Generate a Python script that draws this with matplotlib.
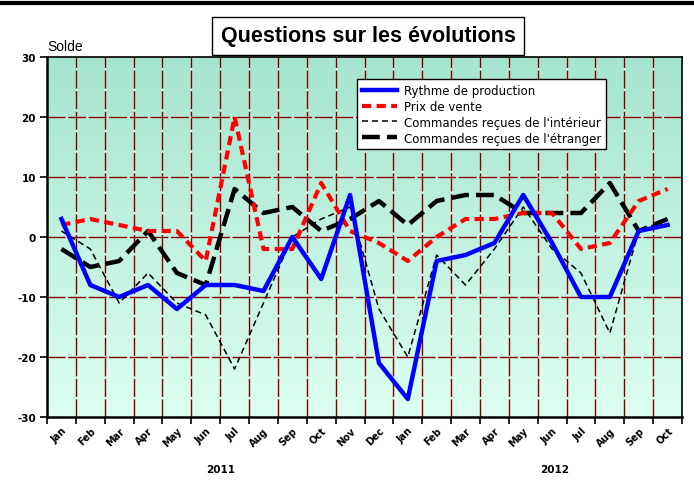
import numpy as np
import matplotlib.pyplot as plt
from matplotlib.colors import LinearSegmentedColormap
from matplotlib.lines import Line2D
from matplotlib.transforms import blended_transform_factory

months = ["Jan", "Feb", "Mar", "Apr", "May", "Jun", "Jul", "Aug", "Sep", "Oct", "Nov", "Dec",
          "Jan", "Feb", "Mar", "Apr", "May", "Jun", "Jul", "Aug", "Sep", "Oct"]
years = ["2011", "2012"]

rythme = [3, -8, -10, -8, -12, -8, -8, -9, 0, -7, 7, -21,
          -27, -4, -3, -1, 7, -1, -10, -10, 1, 2]
prix = [2, 3, 2, 1, 1, -4, 20, -2, -2, 9, 1, -1,
        -4, 0, 3, 3, 4, 4, -2, -1, 6, 8]
interieur = [1, -2, -11, -6, -11, -13, -22, -11, 0, 3, 5, -12,
             -20, -3, -8, -2, 5, -2, -6, -16, 1, 3]
etranger = [-2, -5, -4, 1, -6, -8, 8, 4, 5, 1, 3, 6,
            2, 6, 7, 7, 4, 4, 4, 9, 1, 3]

x = np.arange(len(months))

fig = plt.figure(figsize=(6.94, 4.81), dpi=100)
ax = fig.add_axes([47 / 694, 1 - 418 / 481, 635 / 694, 360 / 481])

# gradient background
cmap = LinearSegmentedColormap.from_list("bg", ["#dcfff1", "#a5e5cf"])
grad = np.linspace(0, 1, 256).reshape(-1, 1)
ax.imshow(grad, cmap=cmap, aspect="auto", origin="lower",
          extent=[-0.5, len(months) - 0.5, -30, 30], zorder=0)

ax.set_xlim(-0.5, len(months) - 0.5)
ax.set_ylim(-30, 30)

# dashed dark red grid with light gaps
for b in np.arange(0.5, len(months) - 0.5, 1):
    ax.axvline(b, color="#f4f4f4", lw=1.0, zorder=1)
    ax.axvline(b, color="#800000", lw=1.0, dashes=(13, 1.8), zorder=1)
for v in range(-20, 30, 10):
    ax.axhline(v, color="#f4f4f4", lw=1.0, zorder=1)
    ax.axhline(v, color="#800000", lw=1.0, dashes=(13, 1.8), zorder=1)

ax.plot(x, interieur, color="black", lw=1.1, dashes=(4, 2.5), zorder=3,
        label="Commandes reçues de l'intérieur")
ax.plot(x, etranger, color="black", lw=3.2, dashes=(4, 1.6), zorder=3,
        label="Commandes reçues de l'étranger")
ax.plot(x, prix, color="#ff0000", lw=3.0, dashes=(2.2, 1.3), zorder=4,
        label="Prix de vente")
ax.plot(x, rythme, color="#0000ff", lw=3.2, zorder=5,
        label="Rythme de production")

# ticks: marks at month boundaries, labels at centres
ax.set_xticks(np.arange(-0.5, len(months), 1))
ax.set_xticklabels([])
ax.tick_params(axis="x", which="major", direction="out", length=5, width=1.2, color="black")
ax.set_xticks(x, minor=True)
ax.set_xticklabels(months, minor=True, rotation=45, ha="right", va="top",
                   rotation_mode="anchor", fontsize=7, fontweight="bold")
ax.tick_params(axis="x", which="minor", length=0, pad=6)

ax.set_yticks(range(-30, 31, 10))
ax.set_yticklabels([str(v) for v in range(-30, 31, 10)], fontsize=7.5, fontweight="bold")
ax.tick_params(axis="y", direction="out", length=5, width=1.2, pad=3)

for s in ax.spines.values():
    s.set_linewidth(1.2)
ax.spines["left"].set_linewidth(1.8)
ax.spines["bottom"].set_linewidth(1.8)

# year labels
tr = blended_transform_factory(ax.transData, fig.transFigure)
ax.text(5.5, 1 - 470 / 481, years[0], transform=tr, ha="center", va="center",
        fontsize=7.5, fontweight="bold")
ax.text(17.1, 1 - 470 / 481, years[1], transform=tr, ha="center", va="center",
        fontsize=7.5, fontweight="bold")

# legend
order = ["Rythme de production", "Prix de vente",
         "Commandes reçues de l'intérieur", "Commandes reçues de l'étranger"]
handles, labels = ax.get_legend_handles_labels()
hmap = dict(zip(labels, handles))
leg = ax.legend([hmap[k] for k in order], order, loc="upper left",
                bbox_to_anchor=((357 - 47) / 635, (418 - 80) / 360),
                frameon=True, fancybox=False, edgecolor="black", framealpha=1,
                fontsize=8.5, handlelength=3.0, handletextpad=0.6,
                labelspacing=0.25, borderpad=0.4, borderaxespad=0)
leg.get_frame().set_linewidth(1.0)
leg.set_zorder(10)

# title box and axis label
fig.text(368 / 694, 1 - 37 / 481, "Questions sur les évolutions", ha="center", va="center",
         fontsize=15.5, fontweight="bold", family="Liberation Sans",
         bbox=dict(boxstyle="square,pad=0.4", facecolor="white", edgecolor="black", lw=1.0))
fig.text(47 / 694, 1 - 47 / 481, "Solde", ha="left", va="center", fontsize=10,
         family="Liberation Sans")

# top border line
fig.add_artist(Line2D([0, 1], [1 - 4 / 481, 1 - 4 / 481], color="black", lw=3,
                      transform=fig.transFigure))

fig.savefig("out.png", dpi=100)
